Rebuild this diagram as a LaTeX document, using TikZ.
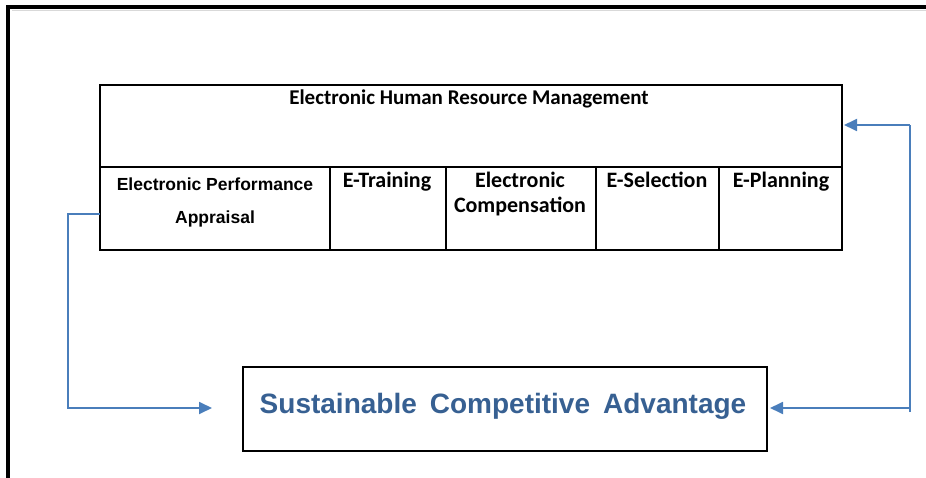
\documentclass[tikz,border=0pt]{standalone}
\usepackage{fontspec}
\setmainfont{Liberation Sans}
\newfontfamily\calibrifont{Carlito}
\usetikzlibrary{arrows.meta,calc}
\definecolor{linkblue}{HTML}{4A7EBB}
\definecolor{titleblue}{HTML}{376092}

\begin{document}
\begin{tikzpicture}[x=1pt,y=-1pt,
  cell/.style={draw=black,line width=1.3pt,anchor=north west,inner sep=0pt,outer sep=0pt},
  celltext/.style={font=\calibrifont\bfseries\fontsize{22}{25}\selectfont,align=center,inner sep=0pt,anchor=north},
  headtext/.style={font=\calibrifont\bfseries\fontsize{21}{25}\selectfont,inner sep=0pt,anchor=north},
  arialtext/.style={font=\bfseries\fontsize{17.5}{33}\selectfont,align=center,inner sep=0pt,anchor=north},
  bigtext/.style={font=\bfseries\fontsize{28}{32}\selectfont,text=titleblue,inner sep=0pt,anchor=base},
  wire/.style={draw=linkblue,line width=1.8pt},
  link/.style={wire,-{Triangle[length=13pt,width=12pt]}}]
\useasboundingbox (0,0) rectangle (926,478);

% page frame (top and left edges only)
\draw[black!15,line width=1pt] (12,11) -- (926,11);
\draw[line width=4pt,line join=miter] (8,478) -- (8,7) -- (926,7);

% E-HRM table: header row and five practice cells
\node[cell,minimum width=742pt,minimum height=82pt] (hrm) at (100,85) {};
\node[cell,minimum width=230pt,minimum height=83pt] (epa) at (100,167) {};
\node[cell,minimum width=116pt,minimum height=83pt] (etr) at (330,167) {};
\node[cell,minimum width=150pt,minimum height=83pt] (eco) at (446,167) {};
\node[cell,minimum width=123pt,minimum height=83pt] (ese) at (596,167) {};
\node[cell,minimum width=123pt,minimum height=83pt] (epl) at (719,167) {};

\node[headtext] (hrmt) at (469,90) {Electronic Human Resource Management};
\node[arialtext] (epat) at (215,178) {Electronic Performance\\Appraisal};
\node[celltext] (etrt) at (387,172) {E-Training};
\node[celltext] (ecot) at (520,172) {Electronic\\Compensation};
\node[celltext] (eset) at (657,172) {E-Selection};
\node[celltext] (eplt) at (781,172) {E-Planning};

% outcome box
\node[cell,line width=1.2pt,minimum width=524pt,minimum height=84pt] (sca) at (243,367) {};
\node[bigtext] (scat) at (503,413) {\spaceskip=13pt Sustainable Competitive Advantage};

% connectors
\coordinate (lbend) at (68,214);
\coordinate (lfoot) at (68,408);
\coordinate (rtop) at (910,125);
\coordinate (rfoot) at (910,412);
\coordinate (rjoin) at (910,408);
\draw[link] ($(epa.north west)+(0,47)$) -- (lbend) -- (lfoot) -- ($(sca.west)+(-31,-1)$);
\draw[wire] (rfoot) -- (rtop);
\draw[link] (rtop) -- ($(hrm.east)+(2,-1)$);
\draw[link] (rjoin) -- ($(sca.east)+(3,-1)$);
\end{tikzpicture}
\end{document}
